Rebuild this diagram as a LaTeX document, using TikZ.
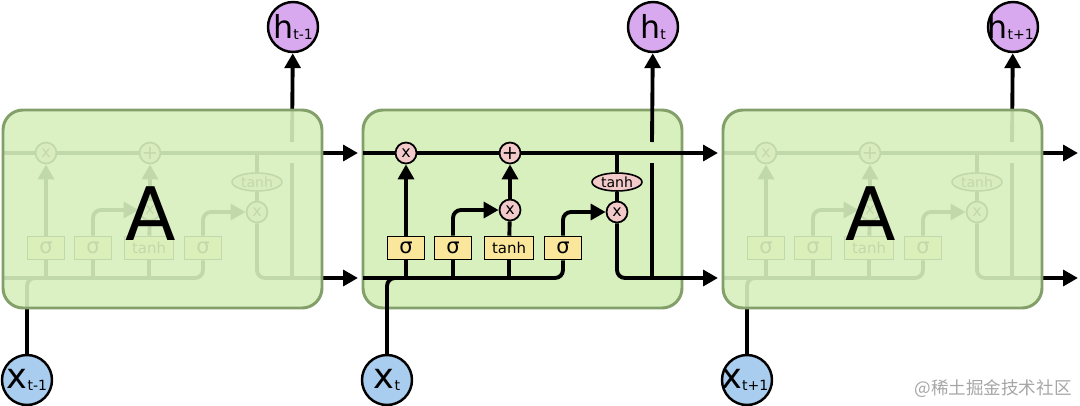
\documentclass[tikz,border=0pt]{standalone}
\usepackage{fontspec}
\setmainfont{DejaVu Sans}
\newfontfamily\cjk{Noto Sans CJK SC}
\usetikzlibrary{arrows.meta, shapes.geometric}
\definecolor{cellFill}{HTML}{D7F0BD}
\definecolor{cellEdge}{HTML}{84A06A}
\definecolor{hFill}{HTML}{D8A9EE}
\definecolor{xFill}{HTML}{A9CDEE}
\definecolor{opFill}{HTML}{F3CACA}
\definecolor{gateFill}{HTML}{FBE79C}
\pgfdeclarelayer{back}
\pgfdeclarelayer{wires}
\pgfsetlayers{back,wires,main}
\tikzset{
  wire/.style={line width=2.2pt, rounded corners=1.6mm},
  flow/.style={wire, -{Triangle[length=8.5pt,width=9pt]}},
  op/.style={circle, draw, line width=1pt, fill=opFill, inner sep=0pt, minimum size=4.2mm, font=\fontsize{9}{9}\selectfont},
  gate/.style={draw, line width=0.9pt, fill=gateFill, inner sep=0pt, minimum height=4.6mm, minimum width=7.4mm, font=\fontsize{12}{12}\selectfont},
  squash/.style={ellipse, draw, line width=0.9pt, fill=opFill, inner sep=0pt, minimum width=10mm, minimum height=3.6mm, font=\fontsize{8}{8}\selectfont},
  io/.style={circle, draw, line width=1.4pt, inner sep=0pt, minimum size=10mm},
  cell/.style={draw=cellEdge, line width=1.7pt, fill=cellFill, rounded corners=4mm},
}
\newcommand\iolab[3]{\makebox[0pt]{\fontsize{#1}{#1}\selectfont #2\raisebox{-1pt}{\fontsize{8}{8}\selectfont #3}}}

\begin{document}
\begin{tikzpicture}[x=0.02cm, y=-0.02cm]
	\useasboundingbox (0,0) rectangle (1080,406);
	\begin{pgfonlayer}{back}
		\draw[cell] (363,110) rectangle (682,308);
	\end{pgfonlayer}
	\foreach \c/\ox/\hs in {
		L/0/t-1,
		M/360/t,
		R/720/t+1
	}{
	\begin{scope}[shift={(\ox,0)}]
		\coordinate (\c-tl) at (3,153);
		\coordinate (\c-tr) at (358,153);
		\coordinate (\c-bl) at (3,278);
		\coordinate (\c-br) at (358,278);
		\coordinate (\c-xj) at (44,278);
		\coordinate (\c-hb) at (292,278);
		\coordinate (\c-hg) at (292,163);
		\coordinate (\c-hu) at (292,142);
		% pointwise ops and gates
		\node[op] (\c-mf) at (46,153) {x};
		\node[op, font=\fontsize{11}{11}\selectfont] (\c-ma) at (150,153) {+};
		\node[op] (\c-mi) at (150,210) {x};
		\node[op] (\c-mo) at (257,212) {x};
		\node[squash] (\c-th) at (257,182) {tanh};
		\node[gate] (\c-gf) at (46,248) {σ};
		\node[gate] (\c-gi) at (93,248) {σ};
		\node[gate, minimum width=9.8mm, font=\fontsize{8.5}{8.5}\selectfont] (\c-gt) at (149,248) {tanh};
		\node[gate] (\c-go) at (203,248) {σ};
		\node[io, fill=hFill] (\c-h) at (293,27) {\iolab{18}{h}{\hs}};
		\node[io, fill=xFill] (\c-x) at (27,380) {\iolab{20}{x}{\hs}};
		\begin{pgfonlayer}{wires}
			\draw[flow] (\c-tl) -- (\c-tr);
			\draw[wire] (\c-bl) -| (\c-go);
			\draw[wire] (\c-x) |- (\c-xj);
			\draw[wire] (\c-gf) -- (\c-gf |- \c-bl);
			\draw[wire] (\c-gi) -- (\c-gi |- \c-bl);
			\draw[wire] (\c-gt) -- (\c-gt |- \c-bl);
			\draw[flow] (\c-gf) -- (\c-mf);
			\draw[flow] (\c-gi) |- (\c-mi);
			\draw[wire] (\c-gt) -- (\c-mi);
			\draw[flow] (\c-mi) -- (\c-ma);
			\draw[flow] (\c-go) |- (\c-mo);
			\draw[wire] (\c-th) -- (\c-th |- \c-tl);
			\draw[wire] (\c-th) -- (\c-mo);
			\draw[flow] (\c-mo) |- (\c-br);
			\draw[wire] (\c-hb) -- (\c-hg);
			\draw[flow] (\c-hu) -- (\c-h);
		\end{pgfonlayer}
	\end{scope}
	}
	% faded neighbours
	\foreach \ox in {0, 720}
	{\draw[cell, fill opacity=.9, shift={(\ox,0)}] (3,110) rectangle (322,308);}
	\node[font=\fontsize{42}{42}\selectfont] (aL) at (151,214) {A};
	\node[font=\fontsize{42}{42}\selectfont] (aR) at (871,214) {A};
	\node[text=black!35, font=\cjk\fontsize{10}{10}\selectfont] (mark) at (993,389) {@稀土掘金技术社区};
\end{tikzpicture}
\end{document}
